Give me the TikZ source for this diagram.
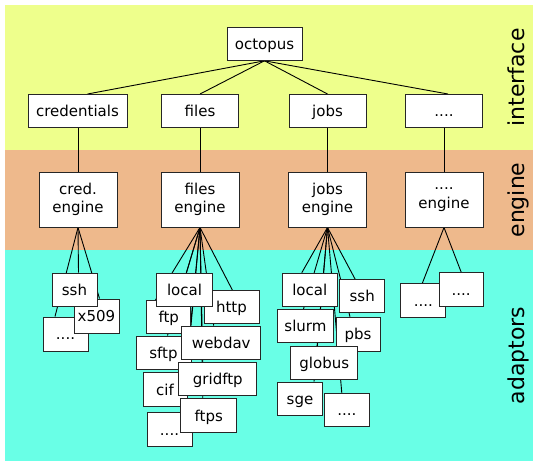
\documentclass[tikz,border=0pt]{standalone}
\usepackage{fontspec}
\setmainfont{DejaVu Sans}
\definecolor{bandY}{RGB}{238,255,140}
\definecolor{bandO}{RGB}{238,185,140}
\definecolor{bandC}{RGB}{105,255,230}
\pgfdeclarelayer{bands}
\pgfdeclarelayer{links}
\pgfsetlayers{bands,links,main}
\begin{document}
\begin{tikzpicture}[x=1pt,y=-1pt,
  box/.style={draw=black!85, fill=white, line width=1pt, inner sep=0pt,
    font=\fontsize{15}{18.3}\selectfont, text height=12.5pt, text depth=1.5pt},
  ebox/.style={draw=black!85, fill=white, line width=1pt, inner sep=0pt,
    font=\fontsize{15}{18.3}\selectfont, align=center,
    minimum width=78pt, minimum height=55pt},
  link/.style={line width=0.9pt, black},
  bandlabel/.style={font=\fontsize{22}{26}\selectfont, rotate=90, anchor=base}]
\useasboundingbox (0,0) rectangle (539,467);
\begin{pgfonlayer}{bands}
\fill[bandY] (5,5) rectangle (533,150);
\fill[bandO] (5,150) rectangle (533,250);
\fill[bandC] (5,250) rectangle (533,461);
\end{pgfonlayer}
\node[bandlabel] (linterface) at (524,77.5) {interface};
\node[bandlabel] (lengine) at (524,200) {engine};
\node[bandlabel] (ladaptors) at (524,355.5) {adaptors};
% interface
\node[box, minimum width=75pt, minimum height=33pt] (oct) at (264.5,43.8) {octopus};
\node[box, minimum width=99pt, minimum height=33pt] (cred) at (77.5,111) {credentials};
\node[box, minimum width=77pt, minimum height=33pt] (files) at (200,111) {files};
\node[box, minimum width=77pt, minimum height=33pt] (jobs) at (327.5,111) {jobs};
\node[box, minimum width=77pt, minimum height=33pt] (dots) at (444,111) {....};
% engines
\node[ebox] (ce) at (78,199.5) {cred.\\engine};
\node[ebox] (fe) at (200,199.5) {files\\engine};
\node[ebox] (je) at (327.5,199.5) {jobs\\engine};
\node[ebox] (de) at (444,199.5) {....\\engine};
% credential adaptors
\node[box, minimum width=45pt, minimum height=34pt] (cdots) at (65.5,334) {....};
\node[box, minimum width=45pt, minimum height=34pt] (cx509) at (96.5,316) {x509};
\node[box, minimum width=45pt, minimum height=33pt] (cssh) at (74.5,289.5) {ssh};
% file adaptors
\node[box, minimum width=45pt, minimum height=34pt] (fdots) at (169.5,429.8) {....};
\node[box, minimum width=44pt, minimum height=34pt] (fcif) at (165,389.8) {cif};
\node[box, minimum width=55pt, minimum height=33pt] (fsftp) at (163.5,352.5) {sftp};
\node[box, minimum width=44pt, minimum height=33pt] (fftp) at (168.8,317.3) {ftp};
\node[box, minimum width=55pt, minimum height=33pt] (fhttp) at (231.5,307.3) {http};
\node[box, minimum width=56pt, minimum height=33pt] (flocal) at (184.5,289.5) {local};
\node[box, minimum width=79pt, minimum height=33pt] (fwebdav) at (221.3,342.5) {webdav};
\node[box, minimum width=78pt, minimum height=33pt] (fgridftp) at (217.8,379.3) {gridftp};
\node[box, minimum width=56pt, minimum height=34pt] (fftps) at (208.8,415.8) {ftps};
% job adaptors
\node[box, minimum width=55pt, minimum height=33pt] (jlocal) at (309.8,289.7) {local};
\node[box, minimum width=45pt, minimum height=33pt] (jssh) at (362.2,296.3) {ssh};
\node[box, minimum width=56pt, minimum height=33pt] (jslurm) at (305.5,326) {slurm};
\node[box, minimum width=44pt, minimum height=34pt] (jpbs) at (358,334.2) {pbs};
\node[box, minimum width=67pt, minimum height=33pt] (jglobus) at (324.3,363.3) {globus};
\node[box, minimum width=45pt, minimum height=33pt] (jsge) at (300,398.7) {sge};
\node[box, minimum width=45pt, minimum height=33pt] (jdots) at (346.8,410) {....};
% other adaptors
\node[box, minimum width=45pt, minimum height=34pt] (dA) at (423.3,300.8) {....};
\node[box, minimum width=44pt, minimum height=34pt] (dB) at (461.2,289.7) {....};
\begin{pgfonlayer}{links}
\draw[link] (oct.south) -- ([xshift=10pt]cred.north);
\draw[link] (oct.south) -- (files.north);
\draw[link] (oct.south) -- (jobs.north);
\draw[link] (oct.south) -- ([xshift=4pt]dots.north);
\draw[link] (ce.north) -- (ce.north |- cred.south);
\draw[link] (fe.north) -- (fe.north |- files.south);
\draw[link] (je.north) -- (je.north |- jobs.south);
\draw[link] (de.north) -- (de.north |- dots.south);
\draw[link] (ce.south) -- ([xshift=-10.5pt]cdots.north);
\draw[link] (ce.south) -- ([xshift=4pt]cssh.north);
\draw[link] (ce.south) -- ([xshift=3pt]cx509.north);
\draw[link] (fe.south) -- ([xshift=-13.5pt]fftp.north);
\draw[link] (fe.south) -- ([xshift=2pt]flocal.north);
\draw[link] (fe.south) -- ([xshift=4pt]fsftp.north);
\draw[link] (fe.south) -- ([xshift=21pt]fcif.north);
\draw[link] (fe.south) -- ([xshift=13.5pt]fdots.north);
\draw[link] (fe.south) -- ([xshift=-15pt]fgridftp.north);
\draw[link] (fe.south) -- ([xshift=-6pt]fftps.north);
\draw[link] (fe.south) -- ([xshift=-7.6pt]fwebdav.north);
\draw[link] (fe.south) -- ([xshift=1pt]fhttp.north);
\draw[link] (je.south) -- ([xshift=-8pt]jlocal.north);
\draw[link] (je.south) -- ([xshift=-7pt]jssh.north);
\draw[link] (je.south) -- ([xshift=-2pt]jslurm.north);
\draw[link] (je.south) -- ([xshift=-8pt]jpbs.north);
\draw[link] (je.south) -- ([xshift=-7pt]jglobus.north);
\draw[link] (je.south) -- ([xshift=14pt]jsge.north);
\draw[link] (je.south) -- ([xshift=-5pt]jdots.north);
\draw[link] (de.south) -- ([xshift=-1pt]dA.north);
\draw[link] (de.south) -- (dB.north);
\end{pgfonlayer}
\end{tikzpicture}
\end{document}
